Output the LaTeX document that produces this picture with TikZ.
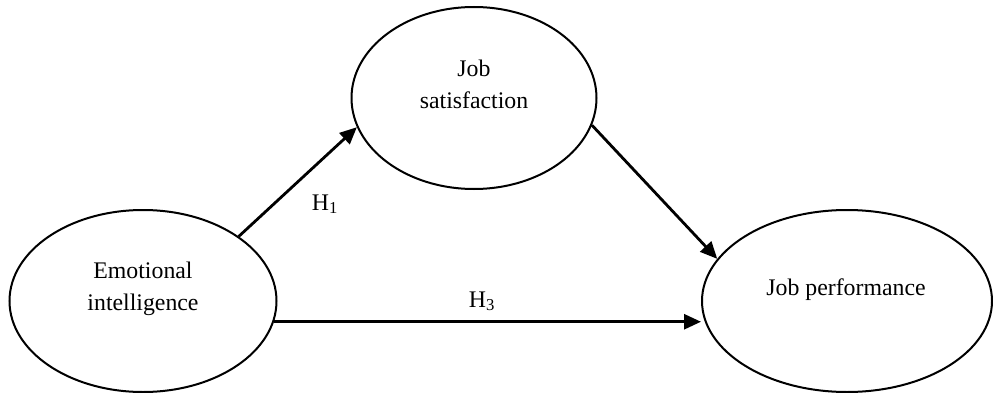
\documentclass[tikz,border=0pt]{standalone}
\usepackage{fontspec}
\setmainfont{Liberation Serif}
\usetikzlibrary{shapes.geometric,arrows.meta}
\tikzset{
  construct/.style={ellipse, draw=black, line width=2pt, inner sep=0pt},
  label text/.style={font=\fontsize{23.8}{32}\selectfont, inner sep=0pt, anchor=base, align=center},
  path arrow/.style={line width=2.8pt, -{Triangle[length=17pt,width=15pt]}}
}
\begin{document}
\begin{tikzpicture}[x=1pt,y=-1pt]
\useasboundingbox (0,0) rectangle (993,393);
\node[construct, minimum width=267pt, minimum height=182pt] (E) at (143,301) {};
\node[construct, minimum width=245pt, minimum height=182pt] (J) at (474,98) {};
\node[construct, minimum width=290pt, minimum height=182pt] (P) at (847,301) {};
\node[label text] (Et) at (143,310) {Emotional\\intelligence};
\node[label text] (Jt) at (474,109) {Job\\satisfaction};
\node[label text] (Pt) at (846,295) {Job performance};
\draw[path arrow] (E.34) -- (J.194);
\node[label text] (H1t) at (325,210) {H\textsubscript{1}};
\draw[path arrow] (J.347) -- (P.162);
\draw[path arrow] (E.351) -- (E.351 -| P.west);
\node[label text] (H3t) at (482,307) {H\textsubscript{3}};
\end{tikzpicture}
\end{document}
